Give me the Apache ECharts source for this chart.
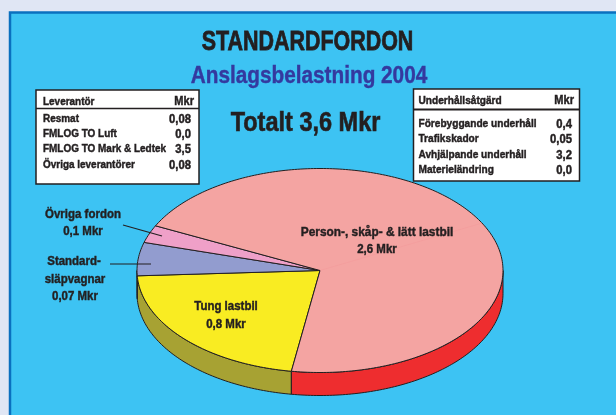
<!DOCTYPE html>
<html>
<head>
<meta charset="utf-8">
<style>
html, body { margin: 0; padding: 0; background: #e0e6f4; }
#chart { width: 616px; height: 415px; }
</style>
<script src="https://cdn.jsdelivr.net/npm/echarts@6/dist/echarts.min.js"></script>
</head>
<body>
<div id="chart"></div>
<script>
const titleText = 'STANDARDFORDON';
const subtitleText = 'Anslagsbelastning 2004';
const totalText = 'Totalt 3,6 Mkr';

// slice sizes as drawn in the picture, in Mkr (the printed labels do not quite agree with the drawing)
const sliceNames = ['Tung lastbil', 'Standardsläpvagnar', 'Övriga fordon', 'Person-, skåp- & lätt lastbil'];
const sliceValues = [0.78, 0.19, 0.10, 2.53];

const supplierHead = ['Leverantör', 'Mkr'];
const supplierNames = ['Resmat', 'FMLOG TO Luft', 'FMLOG TO Mark & Ledtek', 'Övriga leverantörer'];
const supplierValues = ['0,08', '0,0', '3,5', '0,08'];

const measureHead = ['Underhållsåtgärd', 'Mkr'];
const measureNames = ['Förebyggande underhåll', 'Trafikskador', 'Avhjälpande underhåll', 'Materieländring'];
const measureValues = ['0,4', '0,05', '3,2', '0,0'];

const topColors = ['#f9ec22', '#929ccf', '#efa0c8', '#f4a4a2'];
const wallColors = ['#a7a233', '#a7a233', '#a7a233', '#ee2d2f'];
const ink = '#231f20';
const fontName = '"Liberation Sans", sans-serif';

const cx = 320, cy = 270.5, rx = 183, ry = 102, depth = 23;
const startDeg = 99;
const seamDeg = -27.7;

const total = sliceValues.reduce((a, b) => a + b, 0);
const ranges = [];
let acc = startDeg;
sliceValues.forEach(v => {
    const next = acc + v / total * 360;
    ranges.push([acc, next]);
    acc = next;
});

function rimPoint(deg, dy) {
    const a = deg * Math.PI / 180;
    return [cx + rx * Math.cos(a), cy + ry * Math.sin(a) + (dy || 0)];
}

function arcPoints(from, to, dy) {
    const pts = [];
    const n = Math.max(2, Math.ceil(Math.abs(to - from)));
    for (let i = 0; i <= n; i++) {
        pts.push(rimPoint(from + (to - from) * i / n, dy));
    }
    return pts;
}

function renderWall(params) {
    const r = ranges[params.dataIndex];
    // only the front half of the rim is visible
    let from = -1, to = -1;
    [0, 360].forEach(off => {
        const a = Math.max(r[0], off), b = Math.min(r[1], off + 180);
        if (b > a) { from = a; to = b; }
    });
    if (from < 0) return null;
    const pts = arcPoints(from, to, 0).concat(arcPoints(to, from, depth));
    return {
        type: 'polygon',
        shape: { points: pts },
        style: { fill: wallColors[params.dataIndex], stroke: ink, lineWidth: 1 }
    };
}

function renderTop(params) {
    const r = ranges[params.dataIndex];
    const pts = [[cx, cy]].concat(arcPoints(r[0], r[1], 0));
    return {
        type: 'polygon',
        shape: { points: pts },
        style: { fill: topColors[params.dataIndex], stroke: ink, lineWidth: 1, lineJoin: 'round' }
    };
}

// the source uses a condensed face, so squeeze Liberation Sans horizontally
function label(text, x, y, size, extra) {
    const o = extra || {};
    return {
        type: 'text',
        z: 20,
        x: x,
        y: y,
        scaleX: o.scaleX || 0.85,
        style: {
            text: text,
            font: 'bold ' + size + 'px ' + fontName,
            fill: o.fill || ink,
            stroke: o.fill || ink,
            lineWidth: o.weight === undefined ? 0.45 : o.weight,
            align: o.align || 'center',
            verticalAlign: 'middle'
        }
    };
}

function box(x, y, w, h, lineY, lineW) {
    return [
        { type: 'rect', z: 15, shape: { x: x, y: y, width: w, height: h },
          style: { fill: '#fff', stroke: ink, lineWidth: 1.5 } },
        { type: 'line', z: 16, shape: { x1: x, y1: lineY, x2: x + w, y2: lineY },
          style: { stroke: ink, lineWidth: lineW } }
    ];
}

function tableText(head, names, values, nameX, headRight, valueRight, headY, rowYs, squeeze) {
    const out = [
        label(head[0], nameX, headY, 11.5, { align: 'left', scaleX: squeeze }),
        label(head[1], headRight, headY, 12, { align: 'right', scaleX: 0.92 })
    ];
    names.forEach((n, i) => {
        out.push(label(n, nameX, rowYs[i], 11.5, { align: 'left', scaleX: squeeze }));
        out.push(label(values[i], valueRight, rowYs[i] + 1, 12.5, { align: 'right', scaleX: 0.9 }));
    });
    return out;
}

const seam = [rimPoint(seamDeg), [cx, cy]];

const elements = [
    { type: 'rect', z: 0, shape: { x: 10, y: 12.5, width: 640, height: 440 },
      style: { fill: '#3dc3f3', stroke: '#0a70bf', lineWidth: 2.5 } },
    label(titleText, 307.5, 42, 27.5, { scaleX: 0.78, weight: 0.8 }),
    label(subtitleText, 309, 76, 24, { fill: '#34399f', scaleX: 0.865, weight: 0.4 }),
    label(totalText, 305.5, 124, 27, { scaleX: 0.87, weight: 0.6 }),
    { type: 'line', z: 12, shape: { x1: seam[0][0], y1: seam[0][1], x2: seam[1][0], y2: seam[1][1] },
      style: { stroke: '#f08f94', lineWidth: 0.5, opacity: 0.6 } },
    { type: 'line', z: 18, shape: { x1: 123, y1: 225, x2: 162, y2: 236 }, style: { stroke: ink, lineWidth: 1.2 } },
    { type: 'line', z: 18, shape: { x1: 110, y1: 264, x2: 151, y2: 264 }, style: { stroke: ink, lineWidth: 1.2 } },
    label('Övriga fordon', 83, 214, 13.5),
    label('0,1 Mkr', 83, 231, 13.5),
    label('Standard-', 74, 261, 13.5),
    label('släpvagnar', 75, 279, 13.5),
    label('0,07 Mkr', 75, 296, 13.5),
    label(sliceNames[0], 226, 306, 13.5),
    label('0,8 Mkr', 226, 324, 13.5),
    label(sliceNames[3], 377, 232, 13.5, { scaleX: 0.88 }),
    label('2,6 Mkr', 377, 249, 13.5)
].concat(
    box(36, 90, 163, 94, 108.5, 1.5),
    tableText(supplierHead, supplierNames, supplierValues, 43, 194, 191, 102, [119, 134, 149, 165], 0.865),
    box(413.5, 89, 166, 92, 109.5, 2),
    tableText(measureHead, measureNames, measureValues, 418.5, 574, 572, 101, [124, 139, 155, 170], 0.88)
);

const chart = echarts.init(document.getElementById('chart'), null, { renderer: 'canvas' });
chart.setOption({
    animation: false,
    backgroundColor: '#e0e6f4',
    graphic: { elements: elements },
    series: [
        { type: 'custom', coordinateSystem: 'none', z: 4, silent: true, renderItem: renderWall, data: sliceValues },
        { type: 'custom', coordinateSystem: 'none', z: 6, silent: true, renderItem: renderTop, data: sliceValues }
    ]
});
</script>
</body>
</html>
